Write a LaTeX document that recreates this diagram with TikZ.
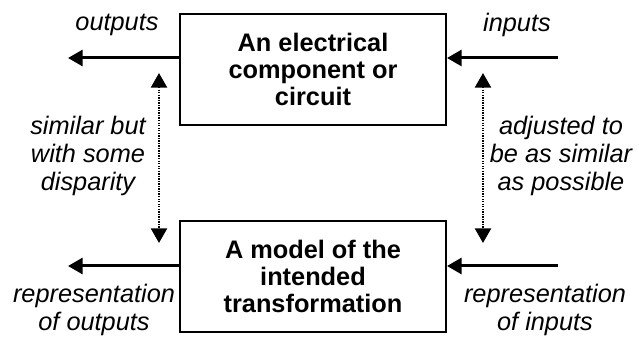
\documentclass[tikz,border=0pt]{standalone}
\usepackage{fontspec}
\setmainfont{Liberation Sans}
\usetikzlibrary{arrows.meta}

\begin{document}
\begin{tikzpicture}[x=0.75pt,y=-0.75pt,
  box/.style={draw,line width=1.5pt,minimum width=199.5pt,minimum height=83pt,
    align=center,font=\fontsize{19}{20}\selectfont\bfseries},
  note/.style={align=center,font=\fontsize{19}{21}\selectfont\itshape},
  flow/.style={line width=2.25pt,-{Triangle[length=11pt,width=12pt]}},
  match/.style={line width=1.8pt,dash pattern=on 1pt off 0.9pt,
    {Triangle[length=11pt,width=12pt]}-{Triangle[length=11pt,width=12pt]}}]
  \useasboundingbox (0,0) rectangle (639,345);
  \node[box] (real) at (313,69.5) {An electrical\\component or\\circuit};
  \node[box] (model) at (313,276.5) {A model of the\\intended\\transformation};
  \coordinate (realOut) at (68,58);
  \coordinate (realIn) at (558,58);
  \coordinate (modelOut) at (68,266);
  \coordinate (modelIn) at (558,266);
  \draw[flow] (real.west |- realOut) -- (realOut);
  \draw[flow] (realIn) -- (real.east |- realIn);
  \draw[flow] (model.west |- modelOut) -- (modelOut);
  \draw[flow] (modelIn) -- (model.east |- modelIn);
  \coordinate (outTop) at (159,73);
  \coordinate (outBot) at (159,243);
  \coordinate (inTop) at (483,73);
  \coordinate (inBot) at (483,243);
  \draw[match] (outTop) -- (outBot);
  \draw[match] (inTop) -- (inBot);
  \node[note] (outLbl) at (117,25) {outputs};
  \node[note] (inLbl) at (517,25) {inputs};
  \node[note] (gapLbl) at (88,156) {similar but\\with some\\disparity};
  \node[note] (fitLbl) at (561,156) {adjusted to\\be as similar\\as possible};
  \node[note] (repOutLbl) at (94,310) {representation\\of outputs};
  \node[note] (repInLbl) at (545,310) {representation\\of inputs};
\end{tikzpicture}
\end{document}
